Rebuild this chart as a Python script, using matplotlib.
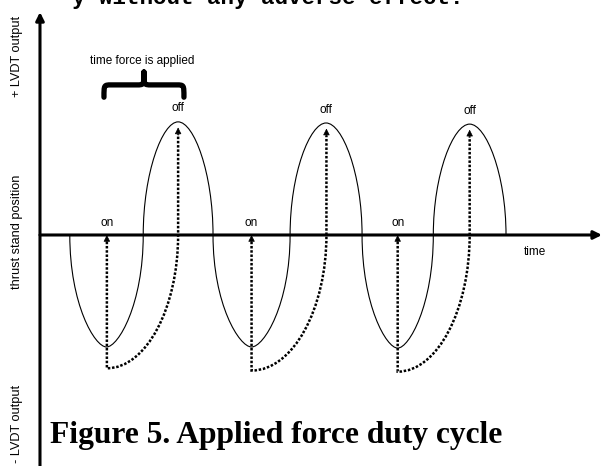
import matplotlib
matplotlib.use("Agg")
import matplotlib.pyplot as plt
from matplotlib.path import Path
from matplotlib.patches import PathPatch

# data (time / position units)
crossings = [0.41, 1.42, 2.38, 3.44, 4.43, 5.41, 6.41]
extremes = [-1.0, 1.01, -1.0, 1.0, -1.01, 0.99]
on_times = [0.92, 2.91, 4.92]
off_times = [1.90, 3.94, 5.91]
off_peaks = [1.01, 1.0, 0.99]
dotted_low = [-1.19, -1.21, -1.22]

fig = plt.figure(figsize=(6.03, 4.66), dpi=100)
ax = fig.add_axes([0, 0, 1, 1])
ax.set_xlim(-0.550, 7.744)
ax.set_ylim(-2.0625, 2.098)
ax.axis("off")

sans = "Liberation Sans"

# solid duty-cycle curve built from half arcs
verts = [(crossings[0], 0)]
codes = [Path.MOVETO]
for i, A in enumerate(extremes):
    a, b = crossings[i], crossings[i + 1]
    m = (a + b) / 2
    w = (b - a) / 2
    if A < 0:
        k, h = 0.62, 0.32 * w
    else:
        k, h = 0.55, 0.45 * w
    verts += [(a, k * A), (m - h, A), (m, A), (m + h, A), (b, k * A), (b, 0)]
    codes += [Path.CURVE4] * 6
ax.add_patch(PathPatch(Path(verts, codes), fill=False, lw=0.8, color="black", zorder=3))

# dotted force paths with arrow heads
for on, off, top, low in zip(on_times, off_times, off_peaks, dotted_low):
    d = off - on
    tip = top - 0.05
    pv = [(on, -0.06), (on, low),
          (on + 0.55 * d, low), (off, 0.55 * low), (off, 0),
          (off, tip - 0.06)]
    pc = [Path.MOVETO, Path.LINETO, Path.CURVE4, Path.CURVE4, Path.CURVE4, Path.LINETO]
    ax.add_patch(PathPatch(Path(pv, pc), fill=False, lw=1.8, color="black",
                           linestyle=(0, (1, 0.7)), zorder=4))
    for x, y in [(on, 0.0), (off, tip)]:
        ax.annotate("", xy=(x, y), xytext=(x, y - 0.07),
                    arrowprops=dict(arrowstyle="-|>", color="black", lw=0.5,
                                    mutation_scale=10, shrinkA=0, shrinkB=0),
                    zorder=5)
    ax.text(on, 0.107, "on", ha="center", va="center", fontsize=8.5, family=sans)
    ax.text(off, top + 0.12, "off", ha="center", va="center", fontsize=8.5, family=sans)

# axes with arrows
ax.annotate("", xy=(7.73, 0), xytext=(0, 0),
            arrowprops=dict(arrowstyle="-|>", color="black", lw=2.2,
                            mutation_scale=12, shrinkA=0, shrinkB=0), zorder=6)
ax.annotate("", xy=(0, 1.99), xytext=(0, -2.07),
            arrowprops=dict(arrowstyle="-|>", color="black", lw=2.2,
                            mutation_scale=12, shrinkA=0, shrinkB=0), zorder=6)

ax.text(6.81, -0.15, "time", ha="center", va="center", fontsize=8.5, family=sans)
ax.text(-0.316, 1.59, "+ LVDT output", rotation=90, ha="center", va="center",
        fontsize=9.2, family=sans)
ax.text(-0.316, 0.027, "thrust stand position", rotation=90, ha="center", va="center",
        fontsize=9.2, family=sans)
ax.text(-0.316, -1.69, "- LVDT output", rotation=90, ha="center", va="center",
        fontsize=9.2, family=sans)

# brace over the first on -> off interval
x0, x1 = on_times[0] - 0.04, off_times[0] + 0.08
xm = (x0 + x1) / 2
yb, ym, yt = 1.23, 1.34, 1.455
bv = [(x0, yb), (x0, ym), (x0, ym), (x0 + 0.1, ym),
      (xm - 0.1, ym), (xm, ym), (xm, ym), (xm, yt),
      (xm, ym), (xm, ym), (xm + 0.1, ym),
      (x1 - 0.1, ym), (x1, ym), (x1, ym), (x1, yb)]
bc = [Path.MOVETO, Path.CURVE4, Path.CURVE4, Path.CURVE4,
      Path.LINETO, Path.CURVE4, Path.CURVE4, Path.CURVE4,
      Path.CURVE4, Path.CURVE4, Path.CURVE4,
      Path.LINETO, Path.CURVE4, Path.CURVE4, Path.CURVE4]
ax.add_patch(PathPatch(Path(bv, bc), fill=False, lw=3.8, color="black",
                       capstyle="round", joinstyle="round"))
ax.text(xm - 0.02, 1.55, "time force is applied", ha="center", va="center",
        fontsize=8.5, family=sans)

# caption and the cut-off line of page text above
ax.text(0.1375, -1.857, "Figure 5. Applied force duty cycle", ha="left", va="baseline",
        fontsize=22.7, fontweight="bold", family="Liberation Serif")
ax.text(0.44, 2.06, "y without any adverse effect.", ha="left", va="baseline",
        fontsize=16.2, fontweight="bold", family="Liberation Mono")

fig.savefig("out.png", dpi=100)
